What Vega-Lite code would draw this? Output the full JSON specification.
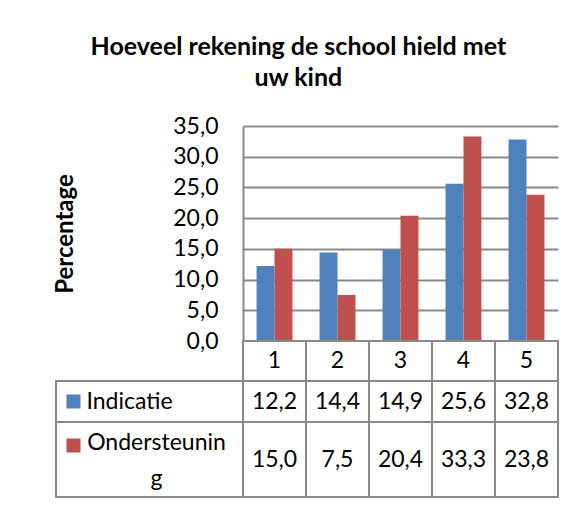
{
  "$schema": "https://vega.github.io/schema/vega-lite/v6.json",
  "padding": {"left": 53, "top": 35, "right": 5, "bottom": 5},
  "background": "white",
  "config": {
    "locale": {"number": {"decimal": ",", "thousands": ".", "grouping": [3], "currency": ["", " €"]}},
    "view": {"stroke": null},
    "font": "Lato",
    "text": {"font": "Lato", "color": "black"}
  },
  "title": {"text": ["Hoeveel rekening de school hield met", "uw kind"], "fontSize": 25, "fontWeight": "bold", "font": "Lato", "lineHeight": 31, "anchor": "middle", "dx": -8, "offset": 24, "color": "black"},
  "datasets": {
    "d": [
      {"cat": "1", "series": "Indicatie", "value": 12.2},
      {"cat": "2", "series": "Indicatie", "value": 14.4},
      {"cat": "3", "series": "Indicatie", "value": 14.9},
      {"cat": "4", "series": "Indicatie", "value": 25.6},
      {"cat": "5", "series": "Indicatie", "value": 32.8},
      {"cat": "1", "series": "Ondersteuning", "value": 15.0},
      {"cat": "2", "series": "Ondersteuning", "value": 7.5},
      {"cat": "3", "series": "Ondersteuning", "value": 20.4},
      {"cat": "4", "series": "Ondersteuning", "value": 33.3},
      {"cat": "5", "series": "Ondersteuning", "value": 23.8}
    ],
    "s": [
      {"series": "Indicatie", "label": "Indicatie"},
      {"series": "Ondersteuning", "label": "Ondersteunin\ng"}
    ]
  },
  "columns": 2,
  "spacing": 0,
  "bounds": "flush",
  "concat": [
    {"width": 187, "height": 215, "data": {"values": [{}]}, "mark": "text", "encoding": {"text": {"value": ""}}},
    {
      "width": 315, "height": 215,
      "data": {"name": "d"},
      "mark": {"type": "bar"},
      "encoding": {
        "x": {"field": "cat", "type": "nominal", "sort": null, "scale": {"paddingInner": 0.43, "paddingOuter": 0.215}, "axis": null},
        "xOffset": {"field": "series", "type": "nominal", "scale": {"paddingInner": 0, "paddingOuter": 0}},
        "y": {"field": "value", "type": "quantitative", "scale": {"domain": [0, 35], "nice": false},
          "axis": {"values": [0, 5, 10, 15, 20, 25, 30, 35], "format": ".1f", "labelFont": "Lato", "labelFontSize": 23, "labelColor": "black", "labelPadding": 25, "ticks": false, "domainColor": "#898989", "domainWidth": 2, "grid": true, "gridColor": "#898989", "gridWidth": 2, "title": "Percentage", "titleFont": "Lato", "titleFontSize": 24, "titleFontWeight": "bold", "titleColor": "black", "titlePadding": 95}},
        "color": {"field": "series", "type": "nominal", "scale": {"domain": ["Indicatie", "Ondersteuning"], "range": ["#4F81BD", "#C0504D"]}, "legend": null}
      }
    },
    {"width": 187, "height": 40, "data": {"values": [{}]}, "mark": "text", "encoding": {"text": {"value": ""}}},
    {
      "width": 315, "height": 40,
      "data": {"name": "d"},
      "transform": [{"filter": "datum.series === 'Indicatie'"}],
      "layer": [
        {"mark": {"type": "rect", "fill": "white", "stroke": "#898989", "strokeWidth": 2},
          "encoding": {"x": {"field": "cat", "type": "nominal", "scale": {"paddingInner": 0, "paddingOuter": 0}, "axis": null}}},
        {"mark": {"type": "text", "fontSize": 23},
          "encoding": {"x": {"field": "cat", "type": "nominal", "axis": null}, "text": {"field": "cat"}}}
      ]
    },
    {
      "width": 187, "height": 41,
      "data": {"name": "s"},
      "transform": [{"filter": "datum.series === 'Indicatie'"}],
      "layer": [
        {"mark": {"type": "rect", "fill": "white", "stroke": "#898989", "strokeWidth": 2}, "encoding": {}},
        {"mark": {"type": "point", "shape": "square", "filled": true, "size": 196, "opacity": 1, "xOffset": -76},
          "encoding": {"color": {"field": "series", "type": "nominal", "scale": {"domain": ["Indicatie", "Ondersteuning"], "range": ["#4F81BD", "#C0504D"]}, "legend": null}}},
        {"mark": {"type": "text", "fontSize": 23, "align": "left", "dx": -63},
          "encoding": {"text": {"field": "label"}}}
      ]
    },
    {
      "width": 315, "height": 41,
      "data": {"name": "d"},
      "transform": [{"filter": "datum.series === 'Indicatie'"}],
      "layer": [
        {"mark": {"type": "rect", "fill": "white", "stroke": "#898989", "strokeWidth": 2},
          "encoding": {"x": {"field": "cat", "type": "nominal", "scale": {"paddingInner": 0, "paddingOuter": 0}, "axis": null}}},
        {"mark": {"type": "text", "fontSize": 23},
          "encoding": {"x": {"field": "cat", "type": "nominal", "axis": null}, "text": {"field": "value", "type": "quantitative", "format": ".1f"}}}
      ]
    },
    {
      "width": 187, "height": 75,
      "data": {"name": "s"},
      "transform": [{"filter": "datum.series === 'Ondersteuning'"}],
      "layer": [
        {"mark": {"type": "rect", "fill": "white", "stroke": "#898989", "strokeWidth": 2}, "encoding": {}},
        {"mark": {"type": "point", "shape": "square", "filled": true, "size": 196, "opacity": 1, "xOffset": -76, "yOffset": -14},
          "encoding": {"color": {"field": "series", "type": "nominal", "scale": {"domain": ["Indicatie", "Ondersteuning"], "range": ["#4F81BD", "#C0504D"]}, "legend": null}}},
        {"mark": {"type": "text", "fontSize": 23, "align": "center", "dx": 7, "dy": -17, "lineBreak": "\n", "lineHeight": 36},
          "encoding": {"text": {"field": "label"}}}
      ]
    },
    {
      "width": 315, "height": 75,
      "data": {"name": "d"},
      "transform": [{"filter": "datum.series === 'Ondersteuning'"}],
      "layer": [
        {"mark": {"type": "rect", "fill": "white", "stroke": "#898989", "strokeWidth": 2},
          "encoding": {"x": {"field": "cat", "type": "nominal", "scale": {"paddingInner": 0, "paddingOuter": 0}, "axis": null}}},
        {"mark": {"type": "text", "fontSize": 23},
          "encoding": {"x": {"field": "cat", "type": "nominal", "axis": null}, "text": {"field": "value", "type": "quantitative", "format": ".1f"}}}
      ]
    }
  ]
}
